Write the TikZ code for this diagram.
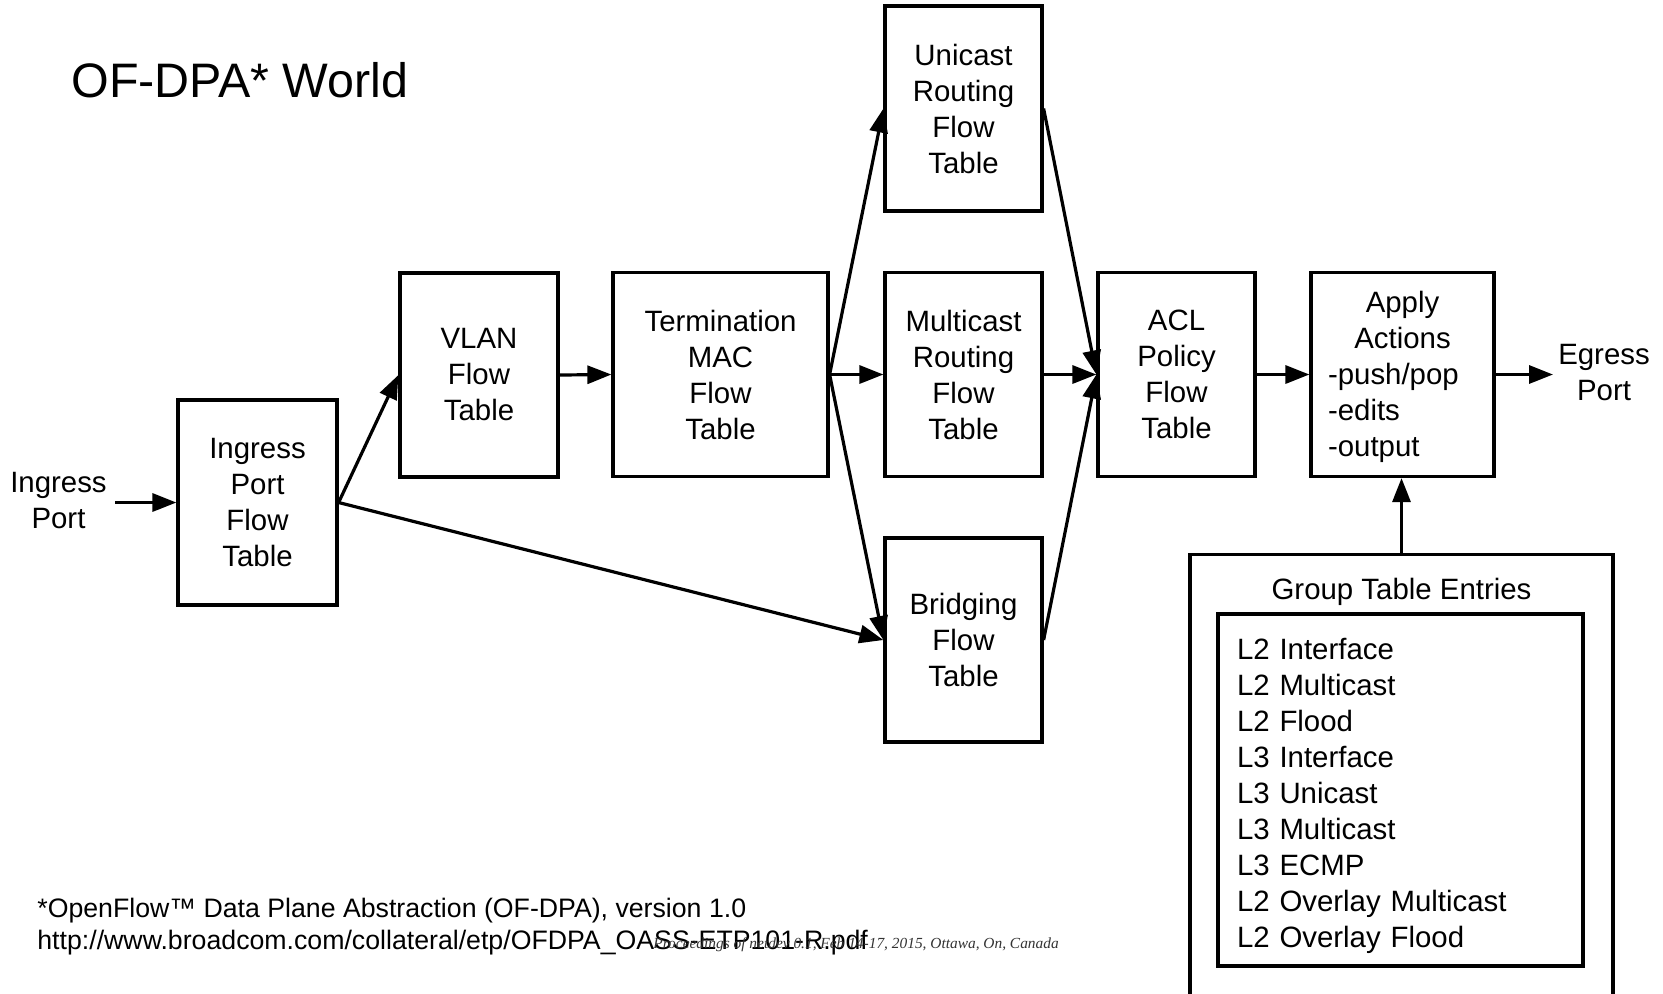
\documentclass[tikz,border=0pt]{standalone}
\usepackage{fontspec}
\setmainfont{Liberation Sans}
\newfontfamily\notefont{Liberation Serif}
\usetikzlibrary{arrows.meta}

% pixel-like grid: 1 unit = 0.5pt, y grows downwards
\newcommand{\boxfont}{\fontsize{14.7}{18}\selectfont}

\tikzset{
  tbl/.style={draw, line width=1.6pt, inner sep=0pt, align=center,
              font=\boxfont, minimum height=102pt},
  lbl/.style={inner sep=0pt, align=center, font=\boxfont},
  arr/.style={line width=1.6pt, -{Triangle[length=12pt,width=9pt]}}
}

\begin{document}
\begin{tikzpicture}[x=0.5pt, y=-0.5pt]
  \clip (0,0) rectangle (1663,993);
  \fill[white] (0,0) rectangle (1663,993);

  % title
  \node[inner sep=0pt, anchor=base west, font=\fontsize{24.2}{28}\selectfont]
    (title) at (71,97) {OF-DPA* World};

  % pipeline tables
  \node[tbl, minimum width=79.5pt, minimum height=102.5pt] (ingress) at (257.5,502.5)
    {Ingress\\Port\\Flow\\Table};
  \node[tbl, minimum width=79pt] (vlan) at (479,375) {VLAN\\Flow\\Table};
  \node[tbl, minimum width=107.5pt] (term) at (720.5,374.5)
    {Termination\\MAC\\Flow\\Table};
  \node[tbl, minimum width=78.5pt, minimum height=102.5pt] (ucast) at (963.5,108.5)
    {Unicast\\Routing\\Flow\\Table};
  \node[tbl, minimum width=78.5pt] (mcast) at (963.5,374.5)
    {Multicast\\Routing\\Flow\\Table};
  \node[tbl, minimum width=78.5pt] (bridge) at (963.5,640)
    {Bridging\\Flow\\Table};
  \node[tbl, minimum width=78.5pt] (acl) at (1176.5,374.5)
    {ACL\\Policy\\Flow\\Table};
  \node[tbl, minimum width=91.5pt] (apply) at (1402.5,374.5)
    {\parbox{74.5pt}{\centering\rule{0pt}{13pt}Apply\\Actions\par
      \raggedright -push/pop\\-edits\\-output}};

  % port labels
  \node[lbl] (inport) at (58.5,501) {Ingress\\Port};
  \node[lbl] (outport) at (1604,372.5) {Egress\\Port};
  \coordinate (inA) at (115,502.5);
  \coordinate (outB) at (1553,374.5);

  % group table entries
  \node[draw, line width=1.6pt, inner sep=0pt, anchor=north,
        minimum width=211.5pt, minimum height=230pt] (group) at (1401.5,553) {};
  \node[lbl] (grouptitle) at (1401.5,592) {Group Table Entries};
  \node[draw, line width=1.6pt, inner sep=0pt, minimum width=182.5pt,
        minimum height=176pt, text width=163.5pt, align=left, font=\boxfont]
    (entries) at (1400.5,790)
    {\rule{0pt}{17pt}L2 Interface\\L2 Multicast\\L2 Flood\\L3 Interface\\L3 Unicast\\
     L3 Multicast\\L3 ECMP\\L2 Overlay Multicast\\L2 Overlay Flood};

  % connectors
  \draw[arr] (inA) -- (ingress.west);
  \draw[arr] (ingress.east) -- (vlan.west);
  \draw[arr] (ingress.east) -- (bridge.west);
  \draw[arr] (vlan.east) -- (term.west);
  \draw[arr] (term.east) -- (ucast.west);
  \draw[arr] (term.east) -- (mcast.west);
  \draw[arr] (term.east) -- (bridge.west);
  \draw[arr] (ucast.east) -- (acl.west);
  \draw[arr] (mcast.east) -- (acl.west);
  \draw[arr] (bridge.east) -- (acl.west);
  \draw[arr] (acl.east) -- (apply.west);
  \draw[arr] (apply.east) -- (outB);
  \draw[arr] (group.north) -- (group.north |- apply.south);

  % footnote
  \node[inner sep=0pt, anchor=base west, font=\fontsize{13.35}{16}\selectfont]
    (fn1) at (37,917) {*OpenFlow™ Data Plane Abstraction (OF-DPA), version 1.0};
  \node[inner sep=0pt, anchor=base west, font=\fontsize{13.35}{16}\selectfont]
    (fn2) at (37,949) {http://www.broadcom.com/collateral/etp/OFDPA\_OASS-ETP101-R.pdf};
  \node[inner sep=0pt, anchor=base west, text=black!80,
        font=\notefont\itshape\fontsize{7.7}{9}\selectfont]
    (proc) at (653,948) {Proceedings of netdev 0.1, Feb 14-17, 2015, Ottawa, On, Canada};
\end{tikzpicture}
\end{document}
